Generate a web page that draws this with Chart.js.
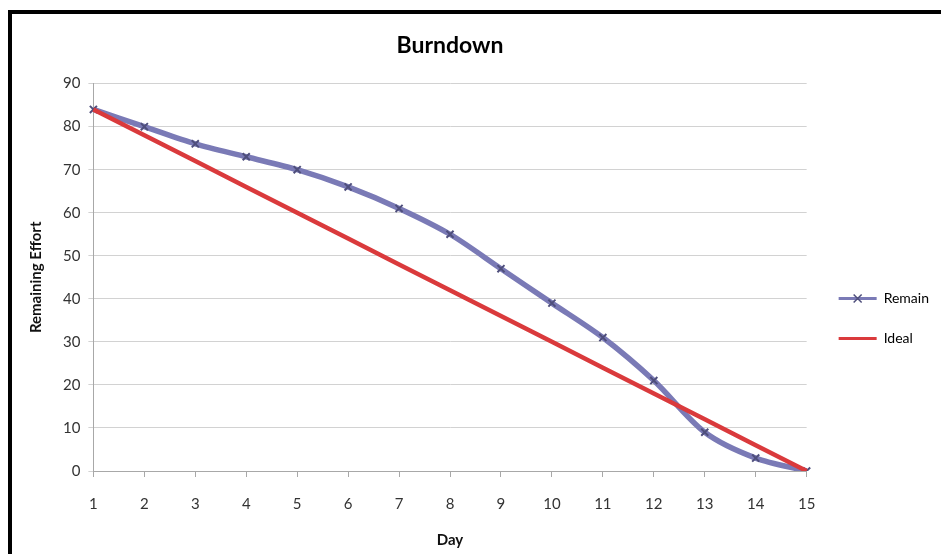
<html>
<head>
<title>Burndown</title>
<style>
    body { margin: 0; background: #fff; }
    #frame { position: absolute; left: 8px; top: 10px; width: 1000px; height: 600px; border-left: 4px solid #000; border-top: 4px solid #000; }
    #wrap { position: absolute; left: 0; top: 0; width: 941px; height: 554px; }
</style>
</head>
<body>
<div id="frame"></div>
<div id="wrap"><canvas id="burndown"></canvas></div>
<script src="https://cdn.jsdelivr.net/npm/chart.js@4/dist/chart.umd.min.js"></script>
<script>
    var days = ['1', '2', '3', '4', '5', '6', '7', '8', '9', '10', '11', '12', '13', '14', '15'];
    var remain = [84, 80, 76, 73, 70, 66, 61, 55, 47, 39, 31, 21, 9, 3, 0];
    var ideal = [84, 78, 72, 66, 60, 54, 48, 42, 36, 30, 24, 18, 12, 6, 0];
    var yTicks = [0, 10, 20, 30, 40, 50, 60, 70, 80, 90];

    var font = "Lato, 'Open Sans', sans-serif";
    var markerColor = '#4f4f7c';

    // nudge title over the plot and legend down a little, like the spreadsheet layout
    var placeBoxes = {
        id: 'placeBoxes',
        afterLayout: function (chart) {
            var t = chart.titleBlock;
            t.left -= 28; t.right -= 28;
            var lg = chart.legend;
            lg.top += 28; lg.bottom += 28;
            lg.left += 6; lg.right += 6;
        },
        afterDraw: function (chart) {
            // x marker on the Remain legend line
            var hb = chart.legend.legendHitBoxes[0];
            if (!hb) return;
            var c = chart.ctx;
            var cx = hb.left + 19, cy = hb.top + hb.height / 2, r = 4;
            c.save();
            c.strokeStyle = markerColor;
            c.lineWidth = 1.5;
            c.beginPath();
            c.moveTo(cx - r, cy - r); c.lineTo(cx + r, cy + r);
            c.moveTo(cx - r, cy + r); c.lineTo(cx + r, cy - r);
            c.stroke();
            c.restore();
        }
    };

    var ctx = document.getElementById('burndown').getContext('2d');
    new Chart(ctx, {
        type: 'line',
        data: {
            labels: days,
            datasets: [
                {
                    label: 'Remain',
                    data: remain,
                    borderColor: '#7a7ab6',
                    backgroundColor: '#7a7ab6',
                    borderWidth: 5.5,
                    tension: 0.3,
                    pointStyle: 'crossRot',
                    pointRadius: 5,
                    pointBorderWidth: 2,
                    pointBorderColor: markerColor,
                    order: 1
                },
                {
                    label: 'Ideal',
                    data: ideal,
                    borderColor: '#da3a3c',
                    backgroundColor: '#da3a3c',
                    borderWidth: 4.5,
                    tension: 0,
                    pointRadius: 0,
                    order: 0
                }
            ]
        },
        plugins: [placeBoxes],
        options: {
            responsive: true,
            maintainAspectRatio: false,
            animation: false,
            layout: {padding: {left: 23, right: 8, top: 28, bottom: 1}},
            plugins: {
                title: {
                    display: true,
                    text: 'Burndown',
                    color: '#000',
                    font: {family: font, size: 23, weight: 'bold'},
                    padding: {top: 4, bottom: 24}
                },
                legend: {
                    position: 'right',
                    labels: {
                        usePointStyle: true,
                        pointStyle: 'line',
                        pointStyleWidth: 38,
                        color: '#111',
                        font: {family: font, size: 14},
                        padding: 26,
                        sort: function (a, b) { return a.datasetIndex - b.datasetIndex; },
                        generateLabels: function (chart) {
                            return chart.data.datasets.map(function (ds, i) {
                                return {
                                    text: ds.label,
                                    strokeStyle: ds.borderColor,
                                    fillStyle: ds.borderColor,
                                    lineWidth: 3,
                                    pointStyle: 'line',
                                    datasetIndex: i
                                };
                            });
                        }
                    }
                },
                tooltip: {enabled: false}
            },
            scales: {
                x: {
                    offset: false,
                    grid: {display: true, drawOnChartArea: false, color: '#a8a8a8', tickLength: 6},
                    border: {color: '#a8a8a8'},
                    ticks: {color: '#333', font: {family: font, size: 15}, padding: 18, maxRotation: 0},
                    title: {display: true, text: 'Day', color: '#111', font: {family: font, size: 15, weight: 'bold'}, padding: {top: 0}}
                },
                y: {
                    min: 0,
                    max: 90,
                    afterBuildTicks: function (scale) {
                        scale.ticks = yTicks.map(function (v) { return {value: v}; });
                    },
                    grid: {color: '#d2d2d2', lineWidth: 1, tickLength: 5},
                    border: {color: '#a8a8a8'},
                    ticks: {color: '#333', font: {family: font, size: 15}, padding: 8},
                    title: {display: true, text: 'Remaining Effort', color: '#111', font: {family: font, size: 15, weight: 'bold'}, padding: {bottom: 10}}
                }
            }
        }
    });
</script>
</body>
</html>
